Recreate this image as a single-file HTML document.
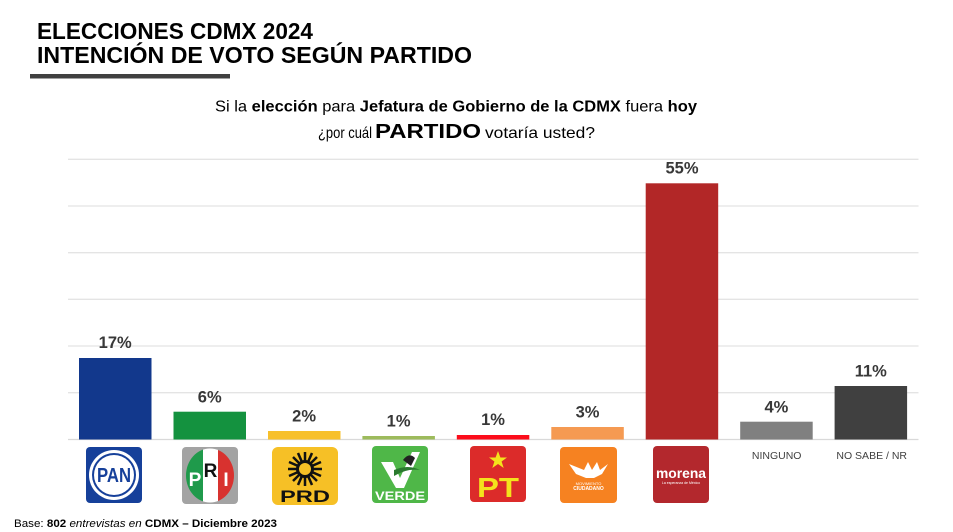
<!DOCTYPE html>
<html><head><meta charset="utf-8"><style>
html,body{margin:0;padding:0;background:#fff;}
svg{display:block;}
text{font-family:"Liberation Sans",sans-serif;}
</style></head><body>
<svg width="953" height="532" viewBox="0 0 953 532" xmlns="http://www.w3.org/2000/svg">
<rect width="953" height="532" fill="#fff"/>
<!-- Title -->
<text x="37" y="39" font-size="23" font-weight="bold" fill="#000" textLength="276" lengthAdjust="spacingAndGlyphs">ELECCIONES CDMX 2024</text>
<text x="37" y="63" font-size="23" font-weight="bold" fill="#000" textLength="435" lengthAdjust="spacingAndGlyphs">INTENCIÓN DE VOTO SEGÚN PARTIDO</text>
<rect x="30" y="74" width="200" height="4.5" fill="#404040"/>
<!-- Subtitle -->
<text x="215" y="111.5" font-size="16" fill="#000" textLength="482" lengthAdjust="spacingAndGlyphs">Si la <tspan font-weight="bold">elección</tspan> para <tspan font-weight="bold">Jefatura de Gobierno de la CDMX</tspan> fuera <tspan font-weight="bold">hoy</tspan></text>
<text x="318" y="138" font-size="16" fill="#000" textLength="54" lengthAdjust="spacingAndGlyphs">¿por cuál</text>
<text x="375" y="138" font-size="20" font-weight="bold" fill="#000" textLength="106" lengthAdjust="spacingAndGlyphs">PARTIDO</text>
<text x="485" y="138" font-size="16" fill="#000" textLength="110" lengthAdjust="spacingAndGlyphs">votaría usted?</text>
<!-- Gridlines -->
<g stroke="#e4e4e4" stroke-width="1.3">
<line x1="68" y1="159.3" x2="918.5" y2="159.3"/>
<line x1="68" y1="206" x2="918.5" y2="206"/>
<line x1="68" y1="252.7" x2="918.5" y2="252.7"/>
<line x1="68" y1="299.3" x2="918.5" y2="299.3"/>
<line x1="68" y1="346" x2="918.5" y2="346"/>
<line x1="68" y1="392.7" x2="918.5" y2="392.7"/>
<line x1="68" y1="439.5" x2="918.5" y2="439.5" stroke="#d9d9d9"/>
</g>
<!-- Bars -->
<rect x="79" y="358" width="72.5" height="81.5" fill="#12388c"/>
<rect x="173.5" y="411.7" width="72.5" height="27.8" fill="#14923f"/>
<rect x="268" y="431" width="72.5" height="8.5" fill="#f7c02c"/>
<rect x="362.4" y="436" width="72.5" height="3.5" fill="#9dbb5c"/>
<rect x="456.8" y="435" width="72.5" height="4.5" fill="#fc0d1b"/>
<rect x="551.3" y="427" width="72.5" height="12.5" fill="#f59a52"/>
<rect x="645.7" y="183.3" width="72.5" height="256.2" fill="#b22727"/>
<rect x="740.2" y="421.7" width="72.5" height="17.8" fill="#808080"/>
<rect x="834.6" y="386" width="72.5" height="53.5" fill="#404040"/>
<!-- Value labels -->
<g font-size="16.5" font-weight="bold" fill="#383838" text-anchor="middle">
<text x="115.2" y="348">17%</text>
<text x="209.7" y="402.7">6%</text>
<text x="304.1" y="421.7">2%</text>
<text x="398.6" y="426.7">1%</text>
<text x="493" y="425">1%</text>
<text x="587.5" y="417.7">3%</text>
<text x="682" y="173.3">55%</text>
<text x="776.4" y="412.3">4%</text>
<text x="870.8" y="376.7">11%</text>
</g>
<!-- Category text labels -->
<g font-size="10.5" fill="#404040" text-anchor="middle">
<text x="776.7" y="459">NINGUNO</text>
<text x="871.7" y="459">NO SABE / NR</text>
</g>
<!-- PAN logo -->
<g>
<rect x="86" y="447" width="56" height="56" rx="4" fill="#16409a"/>
<circle cx="114" cy="475" r="25" fill="#fff"/>
<circle cx="114" cy="475" r="22" fill="#16409a"/>
<circle cx="114" cy="475" r="20" fill="#fff"/>
<text x="114" y="482" font-size="20" font-weight="bold" fill="#16409a" text-anchor="middle" textLength="34" lengthAdjust="spacingAndGlyphs">PAN</text>
</g>
<!-- PRI logo -->
<g>
<rect x="182" y="447" width="56" height="57" rx="4" fill="#a3a3a3"/>
<clipPath id="pric"><ellipse cx="210" cy="475.5" rx="24" ry="27"/></clipPath>
<g clip-path="url(#pric)">
<rect x="186" y="447" width="17" height="57" fill="#1f9a4b"/>
<rect x="203" y="447" width="15" height="57" fill="#fff"/>
<rect x="218" y="447" width="17" height="57" fill="#d8322f"/>
</g>
<text x="195" y="486" font-size="19" font-weight="bold" fill="#fff" text-anchor="middle">P</text>
<text x="210.5" y="477" font-size="19" font-weight="bold" fill="#111" text-anchor="middle">R</text>
<text x="226" y="486" font-size="19" font-weight="bold" fill="#fff" text-anchor="middle">I</text>
</g>
<!-- PRD logo -->
<g>
<rect x="272" y="447" width="66" height="58" rx="6" fill="#f6c026"/>
<g stroke="#111" stroke-width="2.5">
<line x1="305" y1="452" x2="305" y2="486"/>
<line x1="288" y1="469" x2="322" y2="469"/>
<line x1="293" y1="457" x2="317" y2="481"/>
<line x1="317" y1="457" x2="293" y2="481"/>
<line x1="298" y1="453" x2="312" y2="485"/>
<line x1="312" y1="453" x2="298" y2="485"/>
<line x1="289" y1="462" x2="321" y2="476"/>
<line x1="321" y1="462" x2="289" y2="476"/>
</g>
<circle cx="305" cy="469" r="9" fill="#111"/>
<circle cx="305" cy="469" r="6" fill="#f6c026"/>
<text x="305" y="502" font-size="17" font-weight="bold" fill="#111" text-anchor="middle" textLength="50" lengthAdjust="spacingAndGlyphs">PRD</text>
</g>
<!-- VERDE logo -->
<g>
<rect x="372" y="446" width="56" height="57" rx="4" fill="#4fb748"/>
<path d="M381 462 L393 462 L400 478 L412 452 L420 452 L404 488 L396 488 Z" fill="#fff"/>
<path d="M403 460 q6 -8 12 -2 l-4 8 z" fill="#222"/>
<path d="M394 470 q14 -6 26 0 q-13 -2 -26 6z" fill="#2a7a2e"/>
<text x="400" y="500" font-size="12" font-weight="bold" fill="#fff" text-anchor="middle" textLength="50" lengthAdjust="spacingAndGlyphs">VERDE</text>
</g>
<!-- PT logo -->
<g>
<rect x="470" y="446" width="56" height="56" rx="4" fill="#dc2b2a"/>
<polygon points="498,451 500.4,457.5 507,457.5 501.6,461.5 503.7,468 498,464 492.3,468 494.4,461.5 489,457.5 495.6,457.5" fill="#f4e31c"/>
<text x="498" y="497" font-size="28" font-weight="bold" fill="#f4e31c" text-anchor="middle" textLength="42" lengthAdjust="spacingAndGlyphs">PT</text>
</g>
<!-- MC logo -->
<g>
<rect x="560" y="447" width="57" height="56" rx="4" fill="#f68221"/>
<path d="M569 464 L584 470 L588 462 L592 470 L597 462 L600 470 L608 464 L602 474 L594 478 L586 478 L576 474 Z" fill="#fff"/>
<text x="588.5" y="485" font-size="4" fill="#fff" text-anchor="middle">MOVIMIENTO</text>
<text x="588.5" y="490" font-size="5" font-weight="bold" fill="#fff" text-anchor="middle">CIUDADANO</text>
</g>
<!-- Morena logo -->
<g>
<rect x="653" y="446" width="56" height="57" rx="4" fill="#b3282d"/>
<text x="681" y="478" font-size="14" font-weight="bold" fill="#fff" text-anchor="middle" textLength="50" lengthAdjust="spacingAndGlyphs">morena</text>
<text x="681" y="484" font-size="3.5" fill="#fff" text-anchor="middle">La esperanza de México</text>
</g>
<!-- Footer -->
<text x="14" y="527" font-size="11" fill="#000" textLength="263" lengthAdjust="spacingAndGlyphs">Base: <tspan font-weight="bold">802</tspan> <tspan font-style="italic">entrevistas en</tspan> <tspan font-weight="bold">CDMX – Diciembre 2023</tspan></text>
</svg>
</body></html>
